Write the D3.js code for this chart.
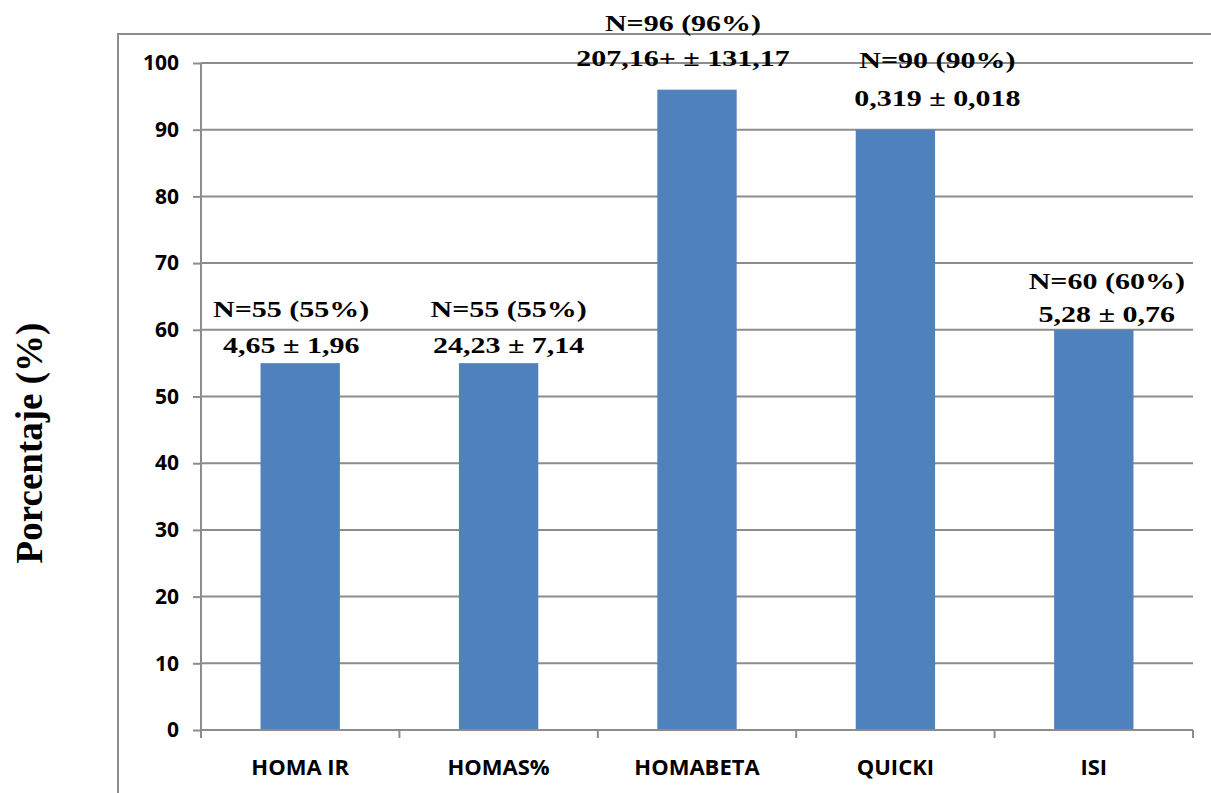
<!DOCTYPE html>
<html>
<head>
<meta charset="utf-8">
<script src="https://cdn.jsdelivr.net/npm/d3@7"></script>
<style>
  html, body { margin: 0; padding: 0; background: #fff; }
  svg { display: block; }
</style>
</head>
<body>
<svg id="chart" width="1211" height="793"></svg>
<script>
// Indices of insulin resistance / sensitivity: share of subjects (%)
const categories = ["HOMA IR", "HOMAS%", "HOMABETA", "QUICKI", "ISI"];
const percentages = [55, 55, 96, 90, 60];
const countLabels = ["N=55 (55%)", "N=55 (55%)", "N=96 (96%)", "N=90 (90%)", "N=60 (60%)"];
const meanSdLabels = ["4,65 \u00b1 1,96", "24,23 \u00b1 7,14", "207,16+ \u00b1 131,17", "0,319 \u00b1 0,018", "5,28 \u00b1 0,76"];
const yTicks = [0, 10, 20, 30, 40, 50, 60, 70, 80, 90, 100];

// Label placement relative to each bar (pixels): horizontal shift, line baselines above bar top
const labelShiftX = [-9, 10, -14, 42, 13];
const labelLine1Above = [46, 46, 59, 62, 41];
const labelLine2Above = [10, 10, 24, 24, 8];

const svg = d3.select("#chart");
const plot = { left: 201, right: 1193, top: 63, bottom: 730 };
const gridColor = "#8c8c8c";
const barColor = "#4f81bd";

const x = d3.scaleBand().domain(categories).range([plot.left, plot.right]).paddingInner(0.6).paddingOuter(0.3);
const y = d3.scaleLinear().domain([0, 100]).range([plot.bottom, plot.top]);

// Outer chart frame (left and top edges visible)
svg.append("path")
  .attr("d", "M118,793 V34 H1211")
  .attr("fill", "none").attr("stroke", gridColor).attr("stroke-width", 2);

// Horizontal gridlines
svg.append("g").selectAll("line").data(yTicks.filter(d => d > 0)).join("line")
  .attr("x1", plot.left).attr("x2", plot.right)
  .attr("y1", d => y(d)).attr("y2", d => y(d))
  .attr("stroke", gridColor).attr("stroke-width", 2);

// Y axis
const yAxis = svg.append("g").attr("transform", `translate(${plot.left},0)`)
  .call(d3.axisLeft(y).tickValues(yTicks).tickSize(8).tickPadding(14).tickSizeOuter(0));
yAxis.select(".domain").attr("stroke", gridColor).attr("stroke-width", 2)
  .attr("d", `M0,${plot.top}V${plot.bottom + 8}`);
yAxis.selectAll(".tick line").attr("stroke", gridColor).attr("stroke-width", 2);
yAxis.selectAll(".tick text")
  .attr("font-family", "'Open Sans', 'Liberation Sans', sans-serif")
  .attr("font-weight", "bold").attr("font-size", 21).attr("fill", "#000");

// Bars
svg.append("g").selectAll("rect").data(categories).join("rect")
  .attr("x", d => x(d))
  .attr("width", x.bandwidth())
  .attr("y", (d, i) => y(percentages[i]))
  .attr("height", (d, i) => y(0) - y(percentages[i]))
  .attr("fill", barColor);

// X axis
const xAxisScale = d3.scalePoint().domain(d3.range(categories.length + 1)).range([plot.left, plot.right]);
const xAxis = svg.append("g").attr("transform", `translate(0,${plot.bottom})`);
xAxis.append("line").attr("x1", plot.left).attr("x2", plot.right)
  .attr("stroke", gridColor).attr("stroke-width", 2);
xAxis.selectAll("line.tk").data(xAxisScale.domain()).join("line").attr("class", "tk")
  .attr("x1", d => xAxisScale(d)).attr("x2", d => xAxisScale(d))
  .attr("y1", 0).attr("y2", 8)
  .attr("stroke", gridColor).attr("stroke-width", 2);
xAxis.selectAll("text").data(categories).join("text")
  .attr("x", d => x(d) + x.bandwidth() / 2)
  .attr("y", 45)
  .attr("text-anchor", "middle")
  .attr("font-family", "'Open Sans', 'Liberation Sans', sans-serif")
  .attr("font-weight", "bold").attr("font-size", 22).attr("fill", "#000")
  .text(d => d);

// Value annotations above the bars (horizontally widened serif text)
const serif = "'Liberation Serif', 'Times New Roman', serif";
const ann = svg.append("g");
categories.forEach((c, i) => {
  const cx = x(c) + x.bandwidth() / 2 + labelShiftX[i];
  const top = y(percentages[i]);
  [[countLabels[i], labelLine1Above[i]], [meanSdLabels[i], labelLine2Above[i]]].forEach(([t, above]) => {
    ann.append("text")
      .attr("transform", `translate(${cx},${top - above}) scale(1.25,1)`)
      .attr("text-anchor", "middle")
      .attr("font-family", serif).attr("font-weight", "bold").attr("font-size", 24)
      .attr("fill", "#000")
      .text(t);
  });
});

// Y axis title
svg.append("text")
  .attr("transform", "translate(42,443) rotate(-90)")
  .attr("text-anchor", "middle")
  .attr("font-family", serif).attr("font-weight", "bold").attr("font-size", 37)
  .attr("fill", "#000")
  .text("Porcentaje (%)");
</script>
</body>
</html>
